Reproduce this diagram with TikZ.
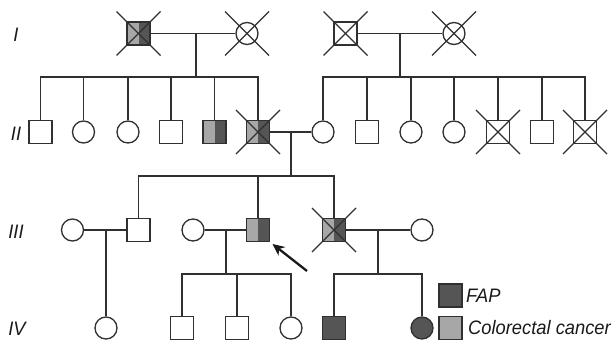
\documentclass[tikz,border=0pt]{standalone}
\usepackage{fontspec}
\newfontfamily\labfont[FakeStretch=0.94]{Liberation Sans}
\usetikzlibrary{arrows.meta}
\definecolor{fapc}{HTML}{555555}
\definecolor{crcc}{HTML}{A7A7A7}
\definecolor{linec}{HTML}{303030}
\tikzset{
  person/.style={draw=linec, line width=1.3pt, inner sep=0pt, fill=white},
  male/.style={person, rectangle, minimum size=23pt},
  female/.style={person, circle, minimum size=22pt},
  halfsq/.style={male, path picture={
     \fill[crcc] (path picture bounding box.south west) rectangle (path picture bounding box.north);
     \fill[fapc] (path picture bounding box.south) rectangle (path picture bounding box.north east);}},
  fapsq/.style={male, fill=fapc},
  crcsq/.style={male, fill=crcc},
  fapci/.style={female, fill=fapc},
  conn/.style={draw=linec, line width=1.3pt},
  crossln/.style={draw=linec, line width=1.1pt},
  gen/.style={font=\labfont\itshape\fontsize{19.5}{19.5}\selectfont, text=black!90},
  legtxt/.style={font=\labfont\itshape\fontsize{19.5}{19.5}\selectfont, text=black!90, anchor=west, inner sep=0pt},
  pointer/.style={draw=black!90, line width=2.3pt, -{Stealth[length=12pt,width=11pt]}, shorten >=3pt}
}
\newcommand{\deceased}[1]{\draw[crossln] (#1.center) ++(-22,-22) -- ++(44,44); \draw[crossln] (#1.center) ++(-22,22) -- ++(44,-44);}
\begin{document}
\begin{tikzpicture}[x=1pt,y=-1pt]
\useasboundingbox (0,0) rectangle (613,340);
% generation labels
\node[gen] (gI) at (16,35) {I};
\node[gen] (gII) at (16,134) {II};
\node[gen] (gIII) at (16,232) {III};
\node[gen] (gIV) at (17,329) {IV};
% Generation I
\node[halfsq] (I1) at (138.5,33.5) {};
\node[female] (I2) at (247,33.5) {};
\node[male] (I3) at (345.5,33.5) {};
\node[female] (I4) at (454,33.5) {};
\draw[conn] (I1) -- (I2);
\draw[conn] (I3) -- (I4);
\coordinate (m1) at (196,33.5);
\coordinate (s1) at (196,77);
\coordinate (m2) at (400,33.5);
\coordinate (s2) at (400,77);
\draw[conn] (m1) -- (s1);
\draw[conn] (m2) -- (s2);
% Generation II
\node[male] (II1) at (40.5,132) {};
\node[female] (II2) at (83.5,132) {};
\node[female] (II3) at (128,132) {};
\node[male] (II4) at (171,132) {};
\node[halfsq] (II5) at (214.5,132) {};
\node[halfsq] (II6) at (258,132) {};
\node[female] (II7) at (323,132) {};
\node[male] (II8) at (367,132) {};
\node[female] (II9) at (411,132) {};
\node[female] (II10) at (454,132) {};
\node[male] (II11) at (498,132) {};
\node[male] (II12) at (542,132) {};
\node[male] (II13) at (585,132) {};
\draw[conn] (II1.north) -- (II1.north |- s1) -- (II6.north |- s1) -- (II6.north);
\foreach \c in {II2,II3,II4,II5} {\draw[conn] (\c.north) -- (\c.north |- s1);}
\draw[conn] (II7.north) -- (II7.north |- s2) -- (II13.north |- s2) -- (II13.north);
\foreach \c in {II8,II9,II10,II11,II12} {\draw[conn] (\c.north) -- (\c.north |- s2);}
\draw[conn] (II6) -- (II7);
\coordinate (m3) at (291,132);
\coordinate (s3) at (291,176);
\draw[conn] (m3) -- (s3);
% Generation III
\node[female] (III1) at (72.5,230) {};
\node[male] (III2) at (138.5,230) {};
\node[female] (III3) at (193,230) {};
\node[halfsq] (III4) at (258,230) {};
\node[halfsq] (III5) at (334,230) {};
\node[female] (III6) at (422,230) {};
\draw[conn] (III2.north) -- (III2.north |- s3) -- (III5.north |- s3) -- (III5.north);
\draw[conn] (III4.north) -- (III4.north |- s3);
\draw[conn] (III1) -- (III2);
\draw[conn] (III3) -- (III4);
\draw[conn] (III5) -- (III6);
% Generation IV
\node[female] (IV1) at (106,328) {};
\node[male] (IV2) at (182,328) {};
\node[male] (IV3) at (237,328) {};
\node[female] (IV4) at (291,328) {};
\node[fapsq] (IV5) at (334,328) {};
\node[fapci] (IV6) at (422,328) {};
\coordinate (m4) at (106,230);
\draw[conn] (m4) -- (IV1.north);
\coordinate (m5) at (226,230);
\coordinate (s5) at (226,274);
\draw[conn] (m5) -- (s5);
\draw[conn] (IV2.north) -- (IV2.north |- s5) -- (IV4.north |- s5) -- (IV4.north);
\draw[conn] (IV3.north) -- (IV3.north |- s5);
\coordinate (m6) at (378,230);
\coordinate (s6) at (378,274);
\draw[conn] (m6) -- (s6);
\draw[conn] (IV5.north) -- (IV5.north |- s6) -- (IV6.north |- s6) -- (IV6.north);
% deceased marks
\deceased{I1}
\deceased{I2}
\deceased{I3}
\deceased{I4}
\deceased{II6}
\deceased{II11}
\deceased{II13}
\deceased{III5}
% proband arrow
\coordinate (ptail) at (307,271);
\draw[pointer] (ptail) -- (III4.south east);
% legend
\node[fapsq] (L1) at (450.5,295.5) {};
\node[crcsq] (L2) at (450.5,328) {};
\node[legtxt] (L1t) at (466,295.5) {FAP};
\node[legtxt] (L2t) at (468,328) {Colorectal cancer};
\end{tikzpicture}
\end{document}
